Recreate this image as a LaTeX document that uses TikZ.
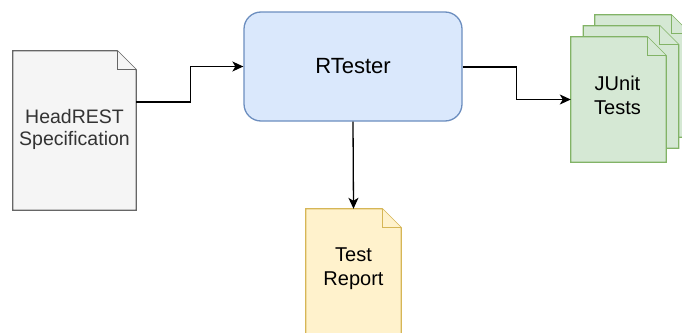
\documentclass[tikz,border=0pt]{standalone}
\usepackage{fontspec}
\setmainfont{Liberation Sans}
\usetikzlibrary{arrows.meta}

% outline of a page with a folded top-right corner, drawn round a node
\newcommand\docpage[2]{%
  \filldraw[#2] (#1.north west) -- ([xshift=-19pt]#1.north east)
    -- ([yshift=-19pt]#1.north east) -- (#1.south east)
    -- (#1.south west) -- cycle;
  \draw[#2] ([xshift=-19pt]#1.north east) |- ([yshift=-19pt]#1.north east);
}

\definecolor{specfill}{HTML}{F5F5F5}
\definecolor{specline}{HTML}{666666}
\definecolor{spectext}{HTML}{333333}
\definecolor{toolfill}{HTML}{DAE8FC}
\definecolor{toolline}{HTML}{6C8EBF}
\definecolor{testfill}{HTML}{D5E8D4}
\definecolor{testline}{HTML}{82B366}
\definecolor{repfill}{HTML}{FFF2CC}
\definecolor{repline}{HTML}{D6B656}

\tikzset{
  docbox/.style={draw=none, inner sep=0pt, align=center,
    font=\fontsize{20}{24}\selectfont},
  specstyle/.style={fill=specfill, draw=specline, line width=1.3pt, line join=miter},
  teststyle/.style={fill=testfill, draw=testline, line width=1.3pt, line join=miter},
  repstyle/.style={fill=repfill, draw=repline, line width=1.3pt, line join=miter},
  toolbox/.style={rectangle, rounded corners=17pt, fill=toolfill, draw=toolline,
    line width=1.3pt, align=center, font=\fontsize{22}{26}\selectfont},
  flow/.style={line width=1.3pt, -{Stealth[length=11pt,width=10pt,inset=3pt]}}
}

\begin{document}
\begin{tikzpicture}[x=1pt,y=-1pt]
\useasboundingbox (0,0) rectangle (682,332);

% HeadREST specification page
\node[docbox, minimum width=123pt, minimum height=159pt, text=spectext]
  (spec) at (74.5,130.5) {};
\docpage{spec}{specstyle}
\node[docbox, text=spectext, font=\fontsize{19.5}{21.5}\selectfont]
  (spectxt) at (74.5,129.5) {HeadREST\\Specification};

% the tool
\node[toolbox, minimum width=218pt, minimum height=109pt] (rt) at (353,66.5) {RTester};

% stack of generated JUnit test pages
\node[docbox, minimum width=95pt, minimum height=122pt] (ju3) at (642.5,76) {};
\node[docbox, minimum width=95pt, minimum height=122pt] (ju2) at (631,87) {};
\node[docbox, minimum width=95pt, minimum height=125pt] (ju1) at (618.5,99.5) {};
\docpage{ju3}{teststyle}
\docpage{ju2}{teststyle}
\docpage{ju1}{teststyle}
\node[docbox] (jutxt) at (617.5,95.5) {JUnit\\Tests};

% test report page
\node[docbox, minimum width=95pt, minimum height=130pt] (rep) at (353.5,274) {};
\docpage{rep}{repstyle}
\node[docbox] (reptxt) at (353.5,268.5) {Test\\Report};

% connectors
\draw[flow] ([yshift=28.5pt]spec.east) -- ++(54,0) |- (rt.west);
\draw[flow] ([yshift=-0.5pt]rt.east) -- ++(54,0) |- (ju1.west);
\draw[flow] (rt.south) -- (rep.north);
\end{tikzpicture}
\end{document}
